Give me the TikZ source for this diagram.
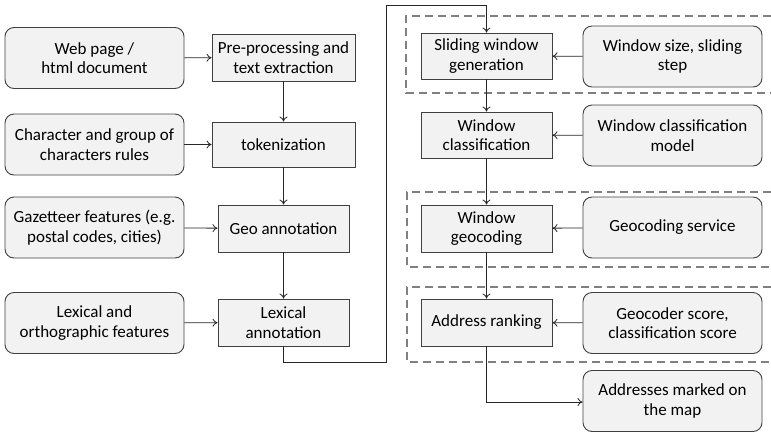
\documentclass[tikz,border=0pt]{standalone}
\usepackage{fontspec}
\setmainfont{Carlito}
\usetikzlibrary{arrows.meta}
\definecolor{boxfill}{HTML}{F2F2F2}
\definecolor{boxline}{HTML}{404040}
\definecolor{dashgray}{HTML}{808080}
\tikzset{
  inbox/.style={draw=boxline, fill=boxfill, rounded corners=9pt, line width=0.9pt,
    minimum width=179pt, minimum height=61pt, align=center, inner sep=1pt,
    font=\fontsize{17}{19.5}\selectfont},
  procbox/.style={draw=boxline, fill=boxfill, line width=0.9pt,
    minimum width=131pt, minimum height=47pt, align=center, inner sep=1pt,
    font=\fontsize{17}{19.5}\selectfont},
  flow/.style={draw=black!85, line width=0.8pt, -{To[length=5pt,width=8pt]}},
  grp/.style={draw=dashgray, line width=1.6pt, dash pattern=on 8pt off 5pt}
}
\begin{document}
\begin{tikzpicture}[x=1pt,y=-1pt]
\useasboundingbox (0,0) rectangle (771,432);
% dashed groups
\draw[grp] (771,16) -- (406,16) -- (406,93) -- (771,93);
\draw[grp] (771,192) -- (407,192) -- (407,267) -- (771,267);
\draw[grp] (771,287) -- (407,287) -- (407,362) -- (771,362);
% left inputs
\node[inbox] (web) at (94.5,58) {Web page /\\html document};
\node[inbox] (chr) at (94.5,144.5) {Character and group of\\characters rules};
\node[inbox] (gaz) at (94.5,227.5) {Gazetteer features (e.g.\\postal codes, cities)};
\node[inbox] (lex) at (94.5,323) {Lexical and\\orthographic features};
% middle process
\node[procbox, minimum width=143pt] (pre) at (283.5,57.5) {Pre-processing and\\text extraction};
\node[procbox, minimum width=143pt, minimum height=45pt] (tok) at (283.5,144.5) {tokenization};
\node[procbox] (geo) at (283.5,228.5) {Geo annotation};
\node[procbox] (lexa) at (283.5,322.5) {Lexical\\annotation};
% right process
\node[procbox, minimum height=46pt] (slide) at (486.5,56) {Sliding window\\generation};
\node[procbox, minimum height=46pt] (wcls) at (486.5,135) {Window\\classification};
\node[procbox] (wgeo) at (486.5,228.5) {Window\\geocoding};
\node[procbox] (rank) at (486.5,322.5) {Address ranking};
% right inputs
\node[inbox] (wsize) at (672.5,56.5) {Window size, sliding\\step};
\node[inbox] (wmod) at (672.5,135.5) {Window classification\\model};
\node[inbox] (gsrv) at (672.5,227.5) {Geocoding service};
\node[inbox] (gscore) at (672.5,323) {Geocoder score,\\classification score};
\node[inbox] (marked) at (672.5,401) {Addresses marked on\\the map};
% connectors
\draw[flow] (web) -- (pre);
\draw[flow] (chr) -- (tok);
\draw[flow] (gaz) -- (geo);
\draw[flow] (lex) -- (lexa);
\draw[flow] (pre) -- (tok);
\draw[flow] (tok) -- (geo);
\draw[flow] (geo) -- (lexa);
\coordinate (r1) at (283.5,362);
\coordinate (r2) at (386,362);
\coordinate (r3) at (386,5);
\coordinate (r4) at (486.5,5);
\draw[flow] (lexa.south) -- (r1) -- (r2) -- (r3) -- (r4) -- (slide.north);
\draw[flow] (wsize) -- (slide);
\draw[flow] (wmod) -- (wcls);
\draw[flow] (gsrv) -- (wgeo);
\draw[flow] (gscore) -- (rank);
\draw[flow] (slide) -- (wcls);
\draw[flow] (wcls) -- (wgeo);
\draw[flow] (wgeo) -- (rank);
\coordinate (r5) at (486.5,402);
\draw[flow] (rank.south) -- (r5) -- (marked.west |- r5);
\end{tikzpicture}
\end{document}
